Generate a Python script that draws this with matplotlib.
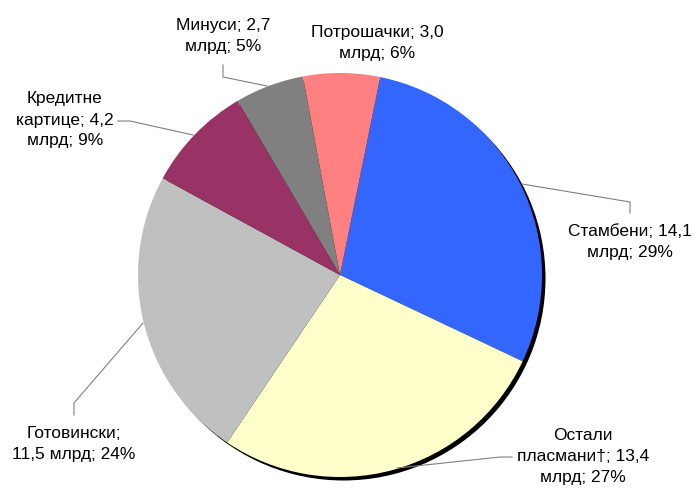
import numpy as np
import matplotlib
matplotlib.use('Agg')
import matplotlib.pyplot as plt
from matplotlib.patches import Circle

#-------------------------------------------------------------------------
# data
categories = ['Стамбени', 'Остали\nпласмани†', 'Готовински', 'Кредитне\nкартице',
              'Минуси', 'Потрошачки']
values = [14.1, 13.4, 11.5, 4.2, 2.7, 3.0]
percents = [29, 27, 24, 9, 5, 6]
labels = ['Стамбени; 14,1\nмлрд; 29%',
          'Остали\nпласмани†; 13,4\nмлрд; 27%',
          'Готовински;\n11,5 млрд; 24%',
          'Кредитне\nкартице; 4,2\nмлрд; 9%',
          'Минуси; 2,7\nмлрд; 5%',
          'Потрошачки; 3,0\nмлрд; 6%']
colors = ['#3366FF', '#FFFFCC', '#C0C0C0', '#993366', '#808080', '#FF8080']

#-------------------------------------------------------------------------
W, H = 696, 490
plt.rcParams['font.family'] = ['Liberation Sans', 'DejaVu Sans']

fig = plt.figure(figsize=(W / 100.0, H / 100.0), dpi=100)
ax = fig.add_axes([0, 0, 1, 1])

def fy(py):
  # pixel row (from top) -> data y (from bottom)
  return H - py

cx, cy, r = 340, fy(275), 202

# drop shadow
ax.add_patch(Circle((cx + 3.5, cy - 3.5), r, facecolor='black', edgecolor='none', zorder=1))

wedges, _ = ax.pie(values, colors=colors, startangle=78.5, counterclock=False,
                   center=(cx, cy), radius=r,
                   wedgeprops=dict(linewidth=0, zorder=2))
for w in wedges:
  w.set_zorder(2)

# label positions (block centres, pixels) and leader lines
label_pos = [(630, 242), (583, 456), (74, 444), (65, 120), (223, 36), (377, 43)]
leaders = [[(630, 213), (630, 202), (522, 184)],
           [(512, 457), (500, 457), (397, 468)],
           [(74, 415), (74, 403), (143, 323)],
           [(118, 121), (130, 121), (193, 135)],
           [(223, 65), (223, 77), (267, 86)],
           None]

for lab, (px, py), pts in zip(labels, label_pos, leaders):
  ax.text(px, fy(py), lab, ha='center', va='center', fontsize=12.5,
          linespacing=1.5, color='black', zorder=5)
  if pts is not None:
    xs = [p[0] for p in pts]
    ys = [fy(p[1]) for p in pts]
    ax.plot(xs, ys, color='#808080', lw=0.8, zorder=4)

ax.set_xlim(0, W)
ax.set_ylim(0, H)
ax.set_aspect('auto')
ax.axis('off')

fig.savefig('out.png', dpi=100, facecolor='white')
